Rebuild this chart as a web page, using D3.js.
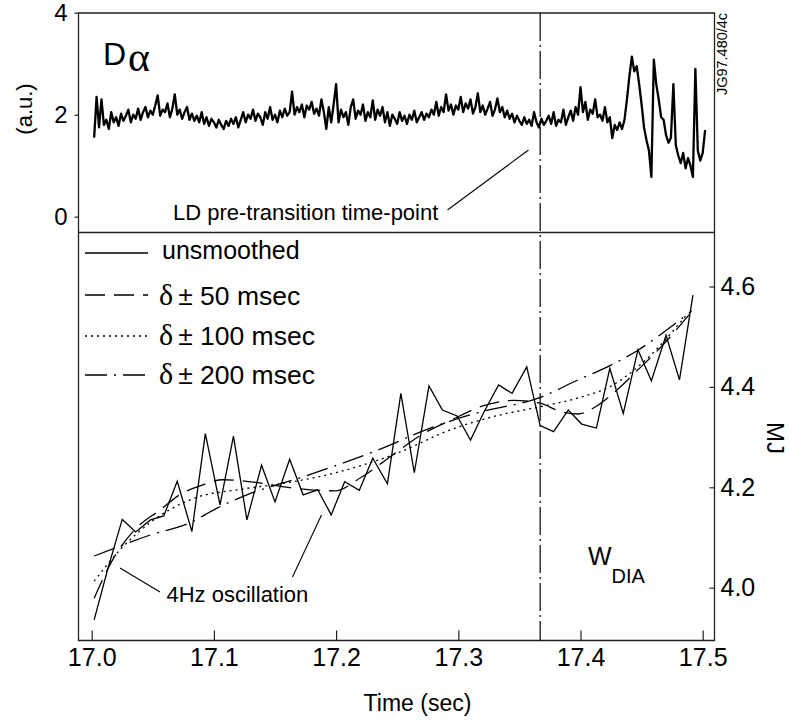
<!DOCTYPE html>
<html><head><meta charset="utf-8">
<script src="https://cdn.jsdelivr.net/npm/d3@7"></script>
<style>
body{margin:0;background:#fff}
svg{display:block}
text{font-family:"Liberation Sans",Arial,Helvetica,sans-serif;fill:#000}
</style>
</head><body>
<svg id="c" width="790" height="722"></svg>
<script>
// ---------------- data ----------------
const xTicks = [17.0, 17.1, 17.2, 17.3, 17.4, 17.5];
const xTickLabels = ["17.0", "17.1", "17.2", "17.3", "17.4", "17.5"];
const daTicks = [0, 2, 4];
const daTickLabels = ["0", "2", "4"];
const wTicks = [4.0, 4.2, 4.4, 4.6];
const wTickLabels = ["4.0", "4.2", "4.4", "4.6"];
const transitionTime = 17.367;

// D-alpha trace (a.u.), sampled every 2 ms from 17.002 s
const daStart = 17.002, daStep = 0.002;
const daValues = [
 1.55,2.35,1.75,2.30,1.80,1.90,1.72,2.05,1.85,1.95,1.78,2.02,1.88,1.98,2.10,1.85,2.00,1.92,2.12,1.90,2.05,2.15,1.95,2.08,
 2.00,2.18,2.38,1.98,2.10,2.05,2.22,1.95,2.12,2.40,2.00,
 2.10,1.92,2.05,2.15,1.90,2.02,1.88,1.98,1.85,2.05,1.82,1.95,1.78,1.92,1.85,1.75,1.90,1.80,1.72,1.88,1.78,
 1.92,1.82,1.95,1.75,1.90,
 2.05,1.85,2.00,1.92,2.10,1.88,2.02,1.95,1.80,2.05,1.92,2.15,1.90,2.00,1.85,2.08,1.95,2.12,1.98,2.05,
 2.45,2.00,2.15,2.05,2.20,1.95,2.18,2.10,2.25,2.02,2.12,1.98,
 2.30,2.05,1.72,2.15,1.85,2.20,2.60,
 1.85,2.10,1.95,2.05,1.80,2.15,2.30,1.92,2.08,2.00,2.20,1.88,2.05,1.95,2.28,1.90,2.10,1.98,2.15,1.85,2.05,1.78,2.00,1.92,1.82,
 2.05,1.88,1.98,1.82,2.00,1.90,2.08,1.85,1.95,2.05,1.90,2.02,1.95,2.10,
 2.00,2.25,1.98,2.15,2.05,2.40,2.08,2.20,2.00,2.18,2.10,2.35,2.05,2.22,2.12,2.30,2.02,2.15,2.42,2.05,2.18,2.00,2.12,2.25,1.98,2.10,2.32,
 2.05,2.15,1.95,2.08,1.92,2.02,1.85,1.98,1.88,1.80,1.95,1.82,1.90,1.78,2.05,1.85,
 1.75,1.92,1.80,1.88,1.98,1.82,2.05,1.78,1.90,1.85,2.10,1.80,1.95,2.08,1.88,2.15,2.00,
 2.54,
 2.05,2.25,1.90,2.10,2.02,2.30,1.95,2.00,1.88,2.15,1.85,1.95,
 1.54,
 1.80,1.70,1.85,1.72,1.90,2.30,
 2.75,3.14,2.85,2.95,
 2.60,2.20,1.75,1.50,1.30,0.78,
 3.08,
 2.60,2.30,1.95,1.90,1.60,1.45,1.55,2.60,1.40,1.20,1.05,1.25,0.95,1.15,1.00,0.78,2.90,1.30,1.10,1.25,1.70
];

// W_DIA unsmoothed (MJ)
const rawTimes = [17.002,17.013,17.025,17.036,17.048,17.059,17.070,17.082,17.093,17.105,17.116,17.127,17.139,17.150,17.162,17.173,17.185,17.196,17.207,17.219,17.230,17.242,17.253,17.264,17.276,17.287,17.299,17.310,17.321,17.333,17.344,17.356,17.367,17.378,17.390,17.401,17.413,17.424,17.435,17.447,17.458,17.470,17.481,17.492];
const rawValues = [3.936,4.036,4.136,4.111,4.135,4.143,4.212,4.112,4.307,4.165,4.302,4.135,4.244,4.171,4.256,4.185,4.195,4.145,4.211,4.194,4.258,4.207,4.387,4.229,4.402,4.354,4.342,4.294,4.350,4.404,4.387,4.440,4.323,4.311,4.354,4.326,4.318,4.437,4.347,4.474,4.412,4.503,4.414,4.583];

// smoothed +-50 ms
const s50Times = [17.002,17.017,17.035,17.056,17.072,17.091,17.107,17.130,17.157,17.179,17.199,17.220,17.245,17.270,17.295,17.320,17.345,17.366,17.385,17.398,17.412,17.428,17.447,17.466,17.491];
const s50Values = [3.979,4.055,4.115,4.155,4.185,4.205,4.215,4.211,4.201,4.195,4.193,4.219,4.262,4.305,4.335,4.362,4.373,4.368,4.350,4.346,4.360,4.390,4.434,4.480,4.550];
// smoothed +-100 ms
const s100Times = [17.002,17.023,17.048,17.086,17.119,17.160,17.203,17.252,17.293,17.334,17.366,17.398,17.426,17.453,17.488];
const s100Values = [4.013,4.075,4.130,4.180,4.195,4.209,4.231,4.270,4.314,4.344,4.360,4.378,4.403,4.453,4.547];
// smoothed +-200 ms
const s200Times = [17.002,17.048,17.080,17.103,17.127,17.146,17.173,17.203,17.236,17.277,17.318,17.366,17.398,17.422,17.447,17.467,17.491];
const s200Values = [4.063,4.105,4.129,4.159,4.185,4.201,4.221,4.246,4.276,4.318,4.350,4.378,4.414,4.440,4.473,4.507,4.551];

const legendLabels = ["unsmoothed", "± 50 msec", "± 100 msec", "± 200 msec"];

// ---------------- layout ----------------
const svg = d3.select("#c");
const L = 78.5, R = 714.5, T = 13, M = 232.5, B = 640.5;
const x = d3.scaleLinear().domain([17.0, 17.5]).range([91.7, 702.7]);
const yTop = d3.scaleLinear().domain([0, 4]).range([216.7, 12.7]);
const yBot = d3.scaleLinear().domain([4.0, 4.6]).range([587.7, 286.5]);
const ink = "#000", frame = "#222";

// frames
svg.append("path")
  .attr("d", `M${L},${T}H${R}V${B}H${L}Z M${L},${M}H${R}`)
  .attr("fill", "none").attr("stroke", frame).attr("stroke-width", 1.3);

function styleAxis(g, size) {
  g.select(".domain").remove();
  g.selectAll(".tick line").attr("stroke", frame).attr("stroke-width", 1.2);
  g.selectAll(".tick text").attr("font-size", size)
    .attr("font-family", '"Liberation Sans",Arial,sans-serif').attr("fill", ink);
}

// top-left axis
const gTop = svg.append("g").attr("transform", `translate(${L},0)`)
  .call(d3.axisLeft(yTop).tickValues(daTicks).tickFormat((d, i) => daTickLabels[i])
    .tickSize(4).tickPadding(7));
styleAxis(gTop, 24);

// bottom x axis
const gX = svg.append("g").attr("transform", `translate(0,${B})`)
  .call(d3.axisBottom(x).tickValues(xTicks).tickFormat((d, i) => xTickLabels[i])
    .tickSize(-10).tickPadding(8));
styleAxis(gX, 25);

// right axis
const gR = svg.append("g").attr("transform", `translate(${R},0)`)
  .call(d3.axisRight(yBot).tickValues(wTicks).tickFormat((d, i) => wTickLabels[i])
    .tickSize(-5).tickPadding(6));
styleAxis(gR, 25);

// transition line
svg.append("line")
  .attr("x1", x(transitionTime)).attr("x2", x(transitionTime))
  .attr("y1", T).attr("y2", B)
  .attr("stroke", ink).attr("stroke-width", 1.2)
  .attr("stroke-dasharray", "28,4,2,4");

// D-alpha trace
const daData = daValues.map((v, i) => [daStart + i * daStep, v]);
svg.append("path").datum(daData)
  .attr("d", d3.line().x(d => x(d[0])).y(d => yTop(d[1])))
  .attr("fill", "none").attr("stroke", ink).attr("stroke-width", 2.3)
  .attr("stroke-linejoin", "round");

// W_DIA lines
const series = [
  {t: rawTimes, v: rawValues, dash: null, curve: d3.curveLinear},
  {t: s50Times, v: s50Values, dash: "20,9", curve: d3.curveMonotoneX},
  {t: s100Times, v: s100Values, dash: "2,4", curve: d3.curveMonotoneX},
  {t: s200Times, v: s200Values, dash: "22,7,2,7", curve: d3.curveMonotoneX}
];
series.forEach(s => {
  const data = s.t.map((t, i) => [t, s.v[i]]);
  svg.append("path").datum(data)
    .attr("d", d3.line().curve(s.curve).x(d => x(d[0])).y(d => yBot(d[1])))
    .attr("fill", "none").attr("stroke", ink).attr("stroke-width", 1.3)
    .attr("stroke-dasharray", s.dash);
});

// legend
const legY = [253, 295, 336, 375];
const legBase = [259, 305, 345, 384];
series.forEach((s, i) => {
  svg.append("line").attr("x1", 85).attr("x2", 148).attr("y1", legY[i]).attr("y2", legY[i])
    .attr("stroke", ink).attr("stroke-width", 1.3).attr("stroke-dasharray", s.dash);
  if (i === 0) {
    svg.append("text").attr("x", 162).attr("y", legBase[i]).attr("font-size", 25).text(legendLabels[i]);
  } else {
    const t = svg.append("text").attr("x", 159).attr("y", legBase[i]);
    t.append("tspan").attr("font-family", '"Liberation Serif","Times New Roman",serif')
      .attr("font-size", 30).text("δ");
    t.append("tspan").attr("dx", 5).attr("font-size", 26.5).text(legendLabels[i]);
  }
});

// texts
const da = svg.append("text").attr("x", 103).attr("y", 65);
da.append("tspan").attr("font-size", 32).text("D");
da.append("tspan").attr("font-family", '"Liberation Serif","Times New Roman",serif')
  .attr("font-size", 42).attr("dx", 2).attr("dy", 6).text("α");

svg.append("text").attr("transform", "translate(24,109) rotate(-90)")
  .attr("text-anchor", "middle").attr("dominant-baseline", "central")
  .attr("font-size", 22).text("(a.u.)");

svg.append("text").attr("x", 173).attr("y", 220).attr("font-size", 22).text("LD pre-transition time-point");
svg.append("line").attr("x1", 447.5).attr("y1", 210).attr("x2", 528.5).attr("y2", 150)
  .attr("stroke", ink).attr("stroke-width", 1.1);

svg.append("text").attr("transform", "translate(722,54) rotate(-90)")
  .attr("text-anchor", "middle").attr("dominant-baseline", "central")
  .attr("font-size", 14.5).text("JG97.480/4c");

svg.append("text").attr("transform", "translate(775,438) rotate(90)")
  .attr("text-anchor", "middle").attr("dominant-baseline", "central")
  .attr("font-size", 24).text("MJ");

svg.append("text").attr("x", 166.5).attr("y", 602).attr("font-size", 22).text("4Hz oscillation");
svg.append("line").attr("x1", 120).attr("y1", 568).attr("x2", 160).attr("y2", 592)
  .attr("stroke", ink).attr("stroke-width", 1.1);
svg.append("line").attr("x1", 292.5).attr("y1", 577).attr("x2", 321.5).attr("y2", 515)
  .attr("stroke", ink).attr("stroke-width", 1.1);

svg.append("text").attr("x", 588).attr("y", 565).attr("font-size", 25).text("W");
svg.append("text").attr("x", 611.5).attr("y", 583).attr("font-size", 20).text("DIA");

svg.append("text").attr("x", 417.5).attr("y", 711).attr("text-anchor", "middle")
  .attr("font-size", 23).text("Time (sec)");
</script>
</body></html>
